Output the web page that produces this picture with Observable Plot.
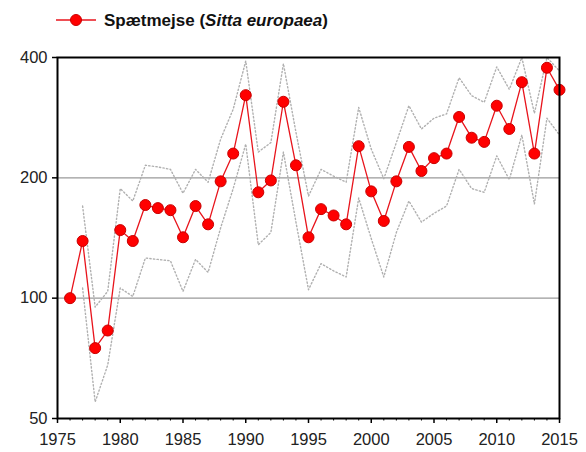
<!DOCTYPE html>
<html><head><meta charset="utf-8">
<script src="https://cdn.jsdelivr.net/npm/d3@7"></script>
<script src="https://cdn.jsdelivr.net/npm/@observablehq/plot@0.6"></script>
<style>
body{margin:0;background:#fff;font-family:"Liberation Sans",Arial,sans-serif;}
#legend{height:40px;display:block;}
#chart svg{display:block;}
</style></head><body>
<svg id="legend" width="586" height="40">
  <line x1="56" x2="96" y1="20" y2="20" stroke="#e8141c" stroke-width="1.3"/>
  <circle cx="76" cy="20" r="5.5" fill="#f00" stroke="#c00"/>
  <text x="104" y="26" font-family="Liberation Sans, Arial, sans-serif" font-size="17" font-weight="bold" fill="#111">Spætmejse (<tspan font-style="italic">Sitta europaea</tspan>)</text>
</svg>
<div id="chart"></div>
<script>
const years = [1976,1977,1978,1979,1980,1981,1982,1983,1984,1985,1986,1987,1988,1989,1990,1991,1992,1993,1994,1995,1996,1997,1998,1999,2000,2001,2002,2003,2004,2005,2006,2007,2008,2009,2010,2011,2012,2013,2014,2015];
const index = [100,139,75,83,148,139,171,168,166,142,170,153,196,230,322,184,197,310,215,142,167,161,153,240,185,156,196,239,208,224,230,284,252,246,303,265,347,230,377,332];
const upper = [null,170,95,104,188,175,215,213,210,183,210,195,250,297,392,232,245,386,260,180,210,202,195,300,236,199,245,303,265,282,289,356,321,309,379,333,400,290,400,370];
const lower = [null,106,55,68,106,101,126,125,124,104,125,116,150,188,243,136,146,232,155,105,122,117,113,178,141,113,146,175,155,163,170,210,188,184,227,198,256,172,282,256];
const majorTicks = [1975,1980,1985,1990,1995,2000,2005,2010,2015];
const yTicks = [50,100,200,400];
const gridValues = [100,200];

const data = years.map((y,i)=>({year:y, index:index[i], upper:upper[i], lower:lower[i]}));
const minorTicks = d3.range(1975, 2016).filter(y => !majorTicks.includes(y));

const chart = Plot.plot({
  width: 586, height: 412,
  marginLeft: 57, marginRight: 27, marginTop: 17, marginBottom: 34,
  style: {fontFamily: "Liberation Sans, Arial, sans-serif", fontSize: "16.5px", color: "#222", background: "#fff"},
  x: {domain: [1975, 2015], label: null},
  y: {type: "log", domain: [50, 400], label: null},
  marks: [
    Plot.ruleY(gridValues, {stroke: "#9a9a9a", strokeWidth: 1.2}),
    Plot.line(data, {x: "year", y: "upper", stroke: "#b0b0b0", strokeWidth: 1.4, strokeDasharray: "1.3,2.3"}),
    Plot.line(data, {x: "year", y: "lower", stroke: "#b0b0b0", strokeWidth: 1.4, strokeDasharray: "1.3,2.3"}),
    Plot.line(data, {x: "year", y: "index", stroke: "#e8141c", strokeWidth: 1.3}),
    Plot.dot(data, {x: "year", y: "index", r: 5.5, fill: "#f00", stroke: "#c80000", strokeWidth: 1}),
    Plot.frame({stroke: "#000", strokeWidth: 2}),
    Plot.axisX({ticks: majorTicks, tickFormat: d => String(d), tickSize: 5, tickPadding: 10, stroke: "#000", strokeWidth: 1.5}),
    Plot.axisX({ticks: minorTicks, tickFormat: () => "", tickSize: 2.5, stroke: "#000", strokeWidth: 1}),
    Plot.axisY({ticks: yTicks, tickFormat: d => String(d), tickSize: 5, tickPadding: 5, stroke: "#000", strokeWidth: 1.5})
  ]
});
document.getElementById("chart").appendChild(chart);
</script>
</body></html>
